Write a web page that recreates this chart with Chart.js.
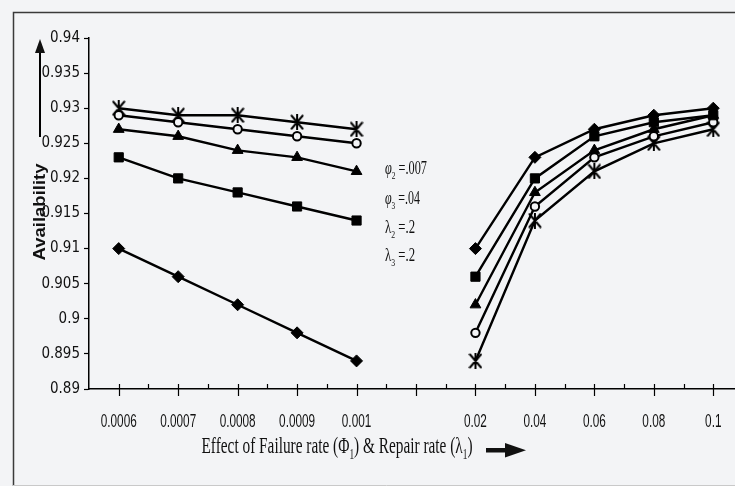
<!DOCTYPE html>
<html><head><meta charset="utf-8">
<script src="https://cdn.jsdelivr.net/npm/chart.js@4"></script>
<style>
html,body{margin:0;padding:0;background:#f3f4f6;overflow:hidden;width:735px;height:486px}
#wrap{position:relative;width:760px;height:486px}
</style></head><body>
<div id="wrap"><canvas id="c"></canvas></div>
<script>
// ---- data ----
const failureRates = ['0.0006','0.0007','0.0008','0.0009','0.001'];
const repairRates  = ['0.02','0.04','0.06','0.08','0.1'];
const categories = [...failureRates, '', ...repairRates];

const diamondFailure  = [0.910, 0.906, 0.902, 0.898, 0.894];
const diamondRepair   = [0.910, 0.923, 0.927, 0.929, 0.930];
const squareFailure   = [0.923, 0.920, 0.918, 0.916, 0.914];
const squareRepair    = [0.906, 0.920, 0.926, 0.928, 0.929];
const triangleFailure = [0.927, 0.926, 0.924, 0.923, 0.921];
const triangleRepair  = [0.902, 0.918, 0.924, 0.927, 0.929];
const circleFailure   = [0.929, 0.928, 0.927, 0.926, 0.925];
const circleRepair    = [0.898, 0.916, 0.923, 0.926, 0.928];
const starFailure     = [0.930, 0.929, 0.929, 0.928, 0.927];
const starRepair      = [0.894, 0.914, 0.921, 0.925, 0.927];

const yMin = 0.89, yMax = 0.94, yStep = 0.005;
const paramLines = [
  [['φ', 'i'], ['2', 's'], [' =.007', 'n']],
  [['φ', 'i'], ['3', 's'], [' =.04', 'n']],
  [['λ', 'n'], ['2', 's'], [' =.2', 'n']],
  [['λ', 'n'], ['3', 's'], [' =.2', 'n']]
];
const xTitle = [['Effect of Failure rate (Φ', 'n'], ['1', 's'], [') & Repair rate (λ', 'n'], ['1', 's'], [')', 'n']];
const yTitle = 'Availability';

// ---- helpers ----
const BG = '#f3f4f6';
const join = (a, b) => [...a, null, ...b];

function starMarker() {
  const c = document.createElement('canvas');
  c.width = 14; c.height = 16;
  const g = c.getContext('2d');
  g.strokeStyle = '#000'; g.lineWidth = 2; g.lineCap = 'round';
  g.beginPath();
  g.moveTo(1.5, 1.5); g.lineTo(12.5, 14.5);
  g.moveTo(12.5, 1.5); g.lineTo(1.5, 14.5);
  g.moveTo(7, 0.5); g.lineTo(7, 15.5);
  g.stroke();
  return c;
}

function ds(label, data, style, extra) {
  return Object.assign({
    label, data,
    borderColor: '#000', borderWidth: 2.4,
    pointStyle: style, pointRadius: 5.5,
    pointBackgroundColor: '#000', pointBorderColor: '#000', pointBorderWidth: 1,
    spanGaps: false, tension: 0, fill: false
  }, extra || {});
}

function drawRich(ctx, segs, x, y, size, family, align, targetW) {
  const fontOf = (k) => {
    if (k === 's') return `${Math.round(size * 0.62)}px ${family}`;
    if (k === 'i') return `italic ${size}px ${family}`;
    return `${size}px ${family}`;
  };
  let total = 0;
  const widths = segs.map(([t, k]) => { ctx.font = fontOf(k); const w = ctx.measureText(t).width; total += w; return w; });
  const sx = targetW ? targetW / total : 1;
  ctx.save();
  ctx.translate(x, y);
  ctx.scale(sx, 1);
  let cx = align === 'center' ? -total / 2 : 0;
  ctx.textBaseline = 'alphabetic';
  ctx.textAlign = 'left';
  segs.forEach(([t, k], i) => {
    ctx.font = fontOf(k);
    ctx.fillText(t, cx, k === 's' ? size * 0.28 : 0);
    cx += widths[i];
  });
  ctx.restore();
  return sx;
}

const decor = {
  id: 'decor',
  beforeDraw(chart) {
    const ctx = chart.ctx;
    ctx.save();
    ctx.strokeStyle = '#3a3a3a'; ctx.lineWidth = 1.5;
    ctx.beginPath();
    ctx.moveTo(13.5, 486); ctx.lineTo(13.5, 12.5); ctx.lineTo(chart.width, 12.5);
    ctx.stroke();
    ctx.strokeStyle = '#c9c9c9'; ctx.lineWidth = 1;
    ctx.beginPath(); ctx.moveTo(13, 485.5); ctx.lineTo(chart.width, 485.5); ctx.stroke();
    ctx.restore();
  },
  afterDraw(chart) {
    const ctx = chart.ctx;
    const xs = chart.scales.x;
    const b = chart.chartArea.bottom;
    ctx.save();
    ctx.strokeStyle = '#000'; ctx.lineWidth = 1.2;
    ctx.beginPath();
    for (let i = 0; i < categories.length; i++) {
      const px = Math.round(xs.getPixelForTick(i)) + 0.5;
      ctx.moveTo(px, b - 5); ctx.lineTo(px, b + 7);
      if (i < categories.length - 1) {
        const mx = Math.round((xs.getPixelForTick(i) + xs.getPixelForTick(i + 1)) / 2) + 0.5;
        ctx.moveTo(mx, b - 5); ctx.lineTo(mx, b);
      }
    }
    ctx.stroke();

    ctx.fillStyle = '#111';
    // x tick labels (condensed, drawn at the scale's tick positions)
    ctx.font = "19px 'Liberation Sans', sans-serif";
    ctx.textAlign = 'center'; ctx.textBaseline = 'alphabetic';
    const sxLab = 36 / ctx.measureText('0.0006').width;
    categories.forEach((lab, i) => {
      if (!lab) return;
      ctx.save();
      ctx.translate(xs.getPixelForTick(i), 427);
      ctx.scale(sxLab, 1);
      ctx.fillText(lab, 0, 0);
      ctx.restore();
    });

    // x title
    drawRich(ctx, xTitle, 337, 453, 23, "'Liberation Serif', serif", 'center', 271);
    // x arrow
    ctx.fillRect(486, 448, 22, 4.5);
    ctx.beginPath(); ctx.moveTo(505, 443); ctx.lineTo(526, 450.2); ctx.lineTo(505, 457.5); ctx.closePath(); ctx.fill();

    // y title (rotated)
    ctx.save();
    ctx.translate(45, 212);
    ctx.rotate(-Math.PI / 2);
    ctx.font = "bold 16px 'Liberation Sans', sans-serif";
    const w = ctx.measureText(yTitle).width;
    ctx.scale(97 / w, 1);
    ctx.textAlign = 'center'; ctx.textBaseline = 'alphabetic';
    ctx.fillText(yTitle, 0, 0);
    ctx.restore();
    // y arrow
    ctx.strokeStyle = '#000'; ctx.lineWidth = 2;
    ctx.beginPath(); ctx.moveTo(40, 137); ctx.lineTo(40, 50); ctx.stroke();
    ctx.beginPath(); ctx.moveTo(40, 39); ctx.lineTo(45, 53); ctx.lineTo(35, 53); ctx.closePath(); ctx.fill();

    // parameter annotations
    const baselines = [174, 204, 233, 261];
    const targets = [42, 35, 30, 30];
    paramLines.forEach((segs, i) => drawRich(ctx, segs, 385, baselines[i], 18, "'Liberation Serif', serif", 'left', targets[i]));
    ctx.restore();
  }
};

const font = "'Liberation Sans Narrow', 'Arial Narrow', 'DejaVu Sans Condensed', sans-serif";

new Chart(document.getElementById('c'), {
  type: 'line',
  data: {
    labels: categories,
    datasets: [
      ds('Diamond', join(diamondFailure, diamondRepair), 'rectRot', {pointRadius: 6}),
      ds('Square', join(squareFailure, squareRepair), 'rect', {pointRadius: 6.5}),
      ds('Triangle', join(triangleFailure, triangleRepair), 'triangle', {pointRadius: 6.2}),
      ds('Circle', join(circleFailure, circleRepair), 'circle', {pointRadius: 4.2, pointBackgroundColor: BG, pointBorderWidth: 2}),
      ds('Star', join(starFailure, starRepair), starMarker())
    ]
  },
  options: {
    responsive: true, maintainAspectRatio: false, animation: false,
    devicePixelRatio: 1,
    layout: { padding: { top: 38, right: 17, left: 0, bottom: 0 } },
    plugins: { legend: { display: false }, tooltip: { enabled: false } },
    scales: {
      x: {
        type: 'category', offset: true,
        grid: { display: false, drawTicks: false },
        border: { display: true, color: '#000', width: 1.5 },
        ticks: { display: false, autoSkip: false, maxRotation: 0 },
        afterFit(s) { s.height = 97; }
      },
      y: {
        min: yMin, max: yMax,
        grid: { drawOnChartArea: false, color: '#000', tickLength: 5, tickWidth: 1.2 },
        border: { display: true, color: '#000', width: 1.5 },
        ticks: { stepSize: yStep, padding: 4, color: '#111', font: { family: font, size: 15 },
                 callback: v => String(+v.toFixed(3)) },
        afterFit(s) { s.width = 89; }
      }
    }
  },
  plugins: [decor]
});
</script>
</body></html>
